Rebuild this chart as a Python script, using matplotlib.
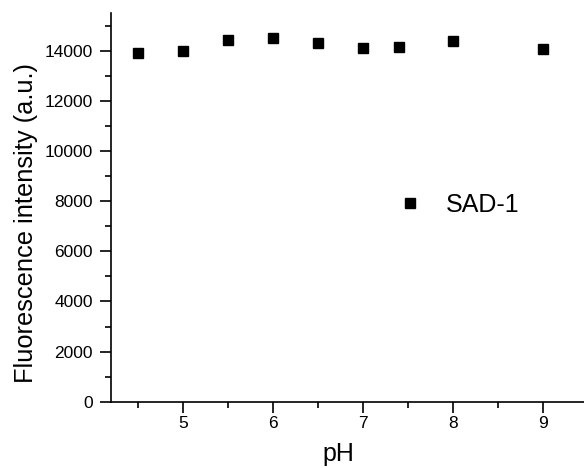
import matplotlib
matplotlib.use("Agg")
import matplotlib.pyplot as plt
from matplotlib.ticker import MultipleLocator

plt.rcParams['font.family'] = ['Liberation Sans', 'DejaVu Sans']

ph = [4.5, 5.0, 5.5, 6.0, 6.5, 7.0, 7.4, 8.0, 9.0]
intensity = [13930, 14010, 14440, 14530, 14330, 14110, 14160, 14400, 14070]
series_label = "SAD-1"

fig = plt.figure(figsize=(5.84, 4.68), dpi=100)
ax = fig.add_axes([0.190, 0.1417, 0.810, 0.8299])
ax.plot(ph, intensity, linestyle='none', marker='s', markersize=7.5,
        color='black', label=series_label)

ax.set_xlim(4.2, 9.455)
ax.set_ylim(0, 15500)
ax.xaxis.set_major_locator(MultipleLocator(1))
ax.xaxis.set_minor_locator(MultipleLocator(0.5))
ax.yaxis.set_major_locator(MultipleLocator(2000))
ax.yaxis.set_minor_locator(MultipleLocator(1000))
for s in ['top', 'right']:
    ax.spines[s].set_visible(False)
for s in ['left', 'bottom']:
    ax.spines[s].set_linewidth(1.2)
ax.tick_params(which='major', direction='out', length=8, width=1.2, labelsize=12.5)
ax.tick_params(axis='y', which='major', pad=5)
ax.tick_params(axis='x', which='major', pad=2.5)
ax.tick_params(which='minor', direction='out', length=4, width=1.2)
ax.set_xlabel('pH', fontsize=18)
ax.set_ylabel('Fluorescence intensity (a.u.)', fontsize=18.3)
ax.xaxis.set_label_coords(0.480, -0.104)
ax.yaxis.set_label_coords(-0.154, 0.461)

ax.legend(loc='center left', bbox_to_anchor=(0.585, 0.506), frameon=False,
          numpoints=1, handlelength=1.0, handletextpad=0.93, fontsize=18,
          borderaxespad=0)

fig.savefig('out.png', dpi=100)
